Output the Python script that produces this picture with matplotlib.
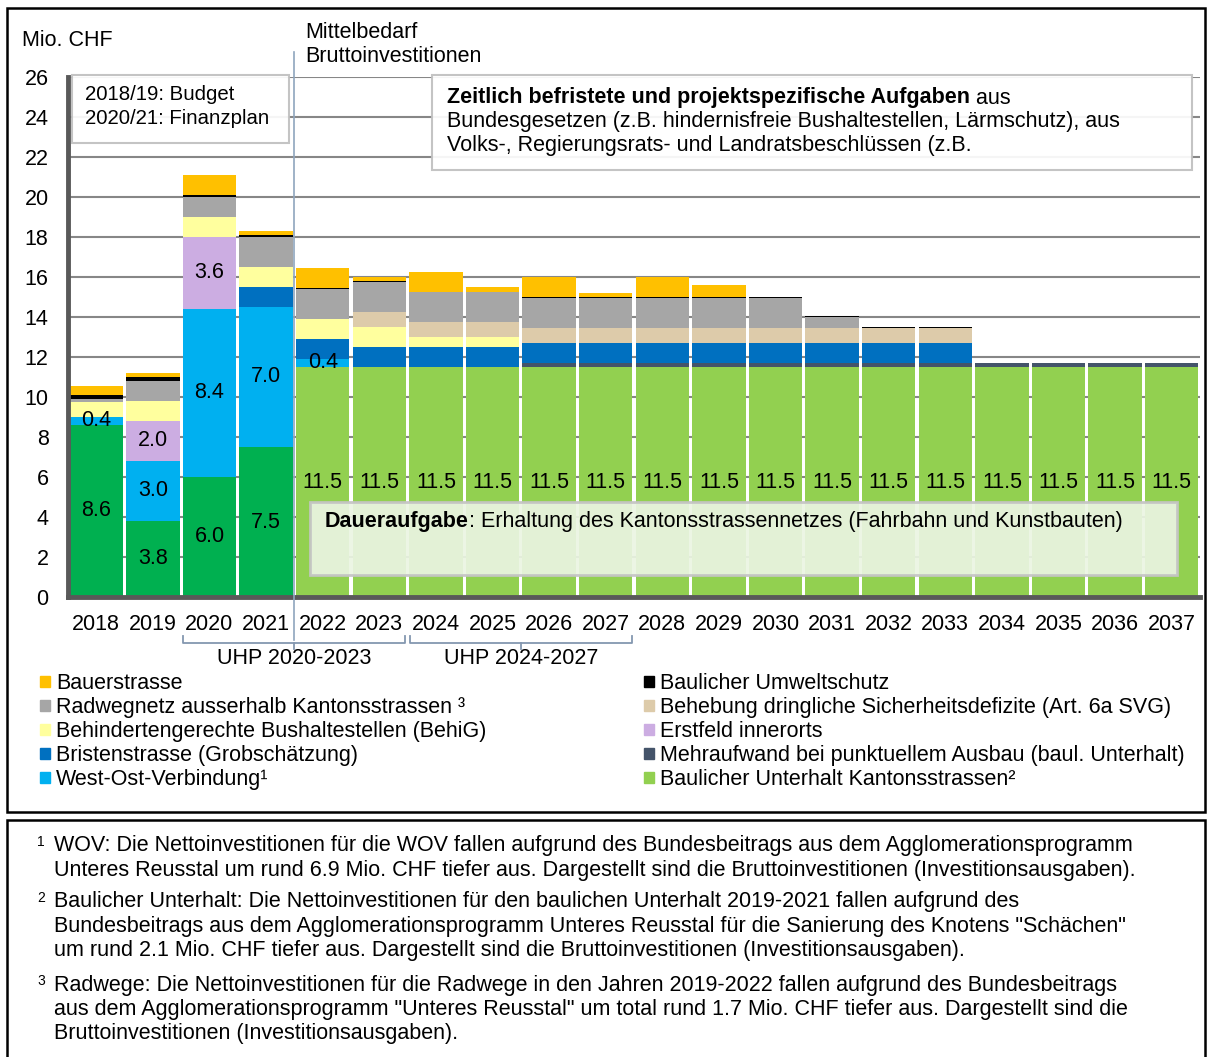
import matplotlib
matplotlib.use('Agg')
import matplotlib.pyplot as plt
import matplotlib.patches as mpatches
import matplotlib.transforms as mtransforms
from matplotlib.lines import Line2D
from matplotlib.text import Annotation

plt.rcParams['font.family'] = ['Liberation Sans', 'DejaVu Sans']

# ---------------- data ----------------
years = ['2018', '2019', '2020', '2021', '2022', '2023', '2024', '2025', '2026', '2027',
         '2028', '2029', '2030', '2031', '2032', '2033', '2034', '2035', '2036', '2037']

unterhalt    = [8.6, 3.8, 6.0, 7.5, 11.5, 11.5, 11.5, 11.5, 11.5, 11.5,
                11.5, 11.5, 11.5, 11.5, 11.5, 11.5, 11.5, 11.5, 11.5, 11.5]
mehraufwand  = [0, 0, 0, 0, 0, 0, 0, 0, 0.2, 0.2,
                0.2, 0.2, 0.2, 0.2, 0.2, 0.2, 0.2, 0.2, 0.2, 0.2]
west_ost     = [0.4, 3.0, 8.4, 7.0, 0.4, 0, 0, 0, 0, 0,
                0, 0, 0, 0, 0, 0, 0, 0, 0, 0]
bristen      = [0, 0, 0, 1.0, 1.0, 1.0, 1.0, 1.0, 1.0, 1.0,
                1.0, 1.0, 1.0, 1.0, 1.0, 1.0, 0, 0, 0, 0]
erstfeld     = [0, 2.0, 3.6, 0, 0, 0, 0, 0, 0, 0,
                0, 0, 0, 0, 0, 0, 0, 0, 0, 0]
bushalt      = [0.75, 1.0, 1.0, 1.0, 1.0, 1.0, 0.5, 0.5, 0, 0,
                0, 0, 0, 0, 0, 0, 0, 0, 0, 0]
behebung     = [0, 0, 0, 0, 0, 0.75, 0.75, 0.75, 0.75, 0.75,
                0.75, 0.75, 0.75, 0.75, 0.75, 0.75, 0, 0, 0, 0]
radweg       = [0.15, 1.0, 1.0, 1.5, 1.5, 1.5, 1.5, 1.5, 1.5, 1.5,
                1.5, 1.5, 1.5, 0.55, 0, 0, 0, 0, 0, 0]
umweltschutz = [0.2, 0.2, 0.1, 0.1, 0.05, 0.05, 0, 0, 0.05, 0.05,
                0.05, 0.05, 0.05, 0.05, 0.05, 0.05, 0, 0, 0, 0]
bauer        = [0.45, 0.2, 1.0, 0.2, 1.0, 0.2, 1.0, 0.25, 1.0, 0.2,
                1.0, 0.6, 0, 0, 0, 0, 0, 0, 0, 0]

names = {
    'bauer': 'Bauerstrasse',
    'radweg': 'Radwegnetz ausserhalb Kantonsstrassen \u00b3',
    'bushalt': 'Behindertengerechte Bushaltestellen (BehiG)',
    'bristen': 'Bristenstrasse (Grobschätzung)',
    'west_ost': 'West-Ost-Verbindung\u00b9',
    'umweltschutz': 'Baulicher Umweltschutz',
    'behebung': 'Behebung dringliche Sicherheitsdefizite (Art. 6a SVG)',
    'erstfeld': 'Erstfeld innerorts',
    'mehraufwand': 'Mehraufwand bei punktuellem Ausbau (baul. Unterhalt)',
    'unterhalt': 'Baulicher Unterhalt Kantonsstrassen\u00b2',
}

# ---------------- layout helpers ----------------
W, H = 1207, 1057
FS = 15.5
fig = plt.figure(figsize=(W / 100, H / 100), dpi=100)


def fx(x):
    return x / W


def fy(y):
    return 1 - y / H


ax = fig.add_axes([fx(68), fy(597), fx(1200) - fx(68), fy(77) - fy(597)])

colors = {
    'unterhalt': '#92D050', 'mehraufwand': '#44546A', 'west_ost': '#00B0F0',
    'bristen': '#0070C0', 'erstfeld': '#CCADE2', 'bushalt': '#FFFF9E',
    'behebung': '#DDCBAA', 'radweg': '#A6A6A6', 'umweltschutz': '#000000',
    'bauer': '#FFC000',
}
unterhalt_colors = ['#00B050'] * 4 + ['#92D050'] * 16

series = [('unterhalt', unterhalt), ('mehraufwand', mehraufwand), ('west_ost', west_ost),
          ('bristen', bristen), ('erstfeld', erstfeld), ('bushalt', bushalt),
          ('behebung', behebung), ('radweg', radweg), ('umweltschutz', umweltschutz),
          ('bauer', bauer)]

x = list(range(len(years)))
bottom = [0.0] * len(years)
handles = {}
containers = {}
for key, vals in series:
    col = unterhalt_colors if key == 'unterhalt' else colors[key]
    bc = ax.bar(x, vals, width=0.94, bottom=bottom, color=col, linewidth=0, zorder=3)
    containers[key] = bc
    handles[key] = mpatches.Patch(color=colors[key], label=names[key])
    bottom = [b + v for b, v in zip(bottom, vals)]

for key in ['unterhalt', 'west_ost', 'erstfeld']:
    vals = dict(series)[key]
    labs = [f'{v:.1f}' if v > 0 else '' for v in vals]
    ax.bar_label(containers[key], labels=labs, label_type='center', fontsize=FS,
                 color='black', zorder=5)

ax.set_xlim(-0.5, 19.5)
ax.set_ylim(0, 26)
ax.set_yticks(range(0, 27, 2))
ax.set_xticks(x)
ax.set_xticklabels(years)
ax.tick_params(axis='both', length=0, labelsize=FS)
ax.tick_params(axis='y', pad=14)
ax.tick_params(axis='x', pad=12)
ax.yaxis.grid(True, color='#878787', linewidth=1.5, zorder=0)
ax.set_axisbelow(True)
for s in ['top', 'right']:
    ax.spines[s].set_visible(False)
for s in ['left', 'bottom']:
    ax.spines[s].set_color('#595959')
    ax.spines[s].set_linewidth(3.5)
    ax.spines[s].set_zorder(4)

# ---------------- figure-level decorations ----------------
blend = mtransforms.blended_transform_factory(ax.transData, fig.transFigure)

# vertical "Mittelbedarf" divider
fig.add_artist(Line2D([3.5, 3.5], [fy(52), fy(640)], transform=blend,
                      color='#8FA5BD', linewidth=1.2, zorder=2))

fig.text(fx(22), fy(41), 'Mio. CHF', fontsize=FS, va='center', ha='left')
fig.text(fx(305), fy(32), 'Mittelbedarf', fontsize=FS, va='center', ha='left')
fig.text(fx(305), fy(56), 'Bruttoinvestitionen', fontsize=FS, va='center', ha='left')

# budget box
fig.add_artist(mpatches.Rectangle((fx(72), fy(143)), fx(289) - fx(72), fy(75) - fy(143),
                                  transform=fig.transFigure, facecolor='white', alpha=0.92,
                                  edgecolor='#BFBFBF', linewidth=1.5, zorder=6))
fig.text(fx(85), fy(95), '2018/19: Budget', fontsize=14.7, va='center', zorder=7)
fig.text(fx(85), fy(118), '2020/21: Finanzplan', fontsize=14.7, va='center', zorder=7)

# Zeitlich box
fig.add_artist(mpatches.Rectangle((fx(432), fy(170)), fx(1192) - fx(432), fy(75) - fy(170),
                                  transform=fig.transFigure, facecolor='white', alpha=0.92,
                                  edgecolor='#BFBFBF', linewidth=1.5, zorder=6))
t1 = fig.text(fx(447), fy(98), 'Zeitlich befristete und projektspezifische Aufgaben',
              fontsize=FS, va='center', weight='bold', zorder=7)
a1 = Annotation(' aus', xy=(1, 0), xycoords=t1, va='bottom', ha='left', fontsize=FS, zorder=7)
fig.add_artist(a1)
fig.text(fx(447), fy(122), 'Bundesgesetzen (z.B. hindernisfreie Bushaltestellen, Lärmschutz), aus',
         fontsize=FS, va='center', zorder=7)
fig.text(fx(447), fy(146), 'Volks-, Regierungsrats- und Landratsbeschlüssen (z.B.',
         fontsize=FS, va='center', zorder=7)

# Daueraufgabe box
fig.add_artist(mpatches.Rectangle((fx(310), fy(575)), fx(1177) - fx(310), fy(502) - fy(575),
                                  transform=fig.transFigure, facecolor='#EBF5E2', alpha=0.92,
                                  edgecolor='#C4C4C4', linewidth=2, zorder=6))
t2 = fig.text(fx(325), fy(522), 'Daueraufgabe', fontsize=FS, va='center', weight='bold', zorder=7)
a2 = Annotation(': Erhaltung des Kantonsstrassennetzes (Fahrbahn und Kunstbauten)',
                xy=(1, 0), xycoords=t2, va='bottom', ha='left', fontsize=FS, zorder=7)
fig.add_artist(a2)

# UHP brackets
bcol = '#8497B0'
for (i0, i1, lab) in [(2, 5, 'UHP 2020-2023'), (6, 9, 'UHP 2024-2027')]:
    xa, xb = i0 - 0.46, i1 + 0.46
    xm = (i0 + i1) / 2
    fig.add_artist(Line2D([xa, xa, xb, xb], [fy(636), fy(643), fy(643), fy(636)],
                          transform=blend, color=bcol, linewidth=1.3))
    fig.add_artist(Line2D([xm, xm], [fy(643), fy(649)], transform=blend,
                          color=bcol, linewidth=1.3))
    fig.text(xm, fy(659), lab, transform=blend, fontsize=FS, ha='center', va='center')

# legends
left_keys = ['bauer', 'radweg', 'bushalt', 'bristen', 'west_ost']
right_keys = ['umweltschutz', 'behebung', 'erstfeld', 'mehraufwand', 'unterhalt']
for keys, xpos in [(left_keys, 40), (right_keys, 644)]:
    fig.legend(handles=[handles[k] for k in keys], loc='upper left',
               bbox_to_anchor=(fx(xpos), fy(673)), frameon=False, fontsize=FS,
               borderpad=0, borderaxespad=0, handlelength=0.45, handleheight=0.45,
               handletextpad=0.3, labelspacing=0.14)

# frames
fig.add_artist(mpatches.Rectangle((fx(7), fy(812)), fx(1205) - fx(7), fy(8) - fy(812),
                                  transform=fig.transFigure, fill=False,
                                  edgecolor='black', linewidth=1.8))
fig.add_artist(mpatches.Rectangle((fx(7), fy(1070)), fx(1205) - fx(7), fy(820) - fy(1070),
                                  transform=fig.transFigure, fill=False,
                                  edgecolor='black', linewidth=1.8, clip_on=False))

# footnotes
FN = 15.5
foot = [
    ('1', 846, ['WOV: Die Nettoinvestitionen für die WOV fallen aufgrund des Bundesbeitrags aus dem Agglomerationsprogramm',
                'Unteres Reusstal um rund 6.9 Mio. CHF tiefer aus. Dargestellt sind die Bruttoinvestitionen (Investitionsausgaben).']),
    ('2', 902, ['Baulicher Unterhalt: Die Nettoinvestitionen für den baulichen Unterhalt 2019-2021 fallen aufgrund des',
                'Bundesbeitrags aus dem Agglomerationsprogramm Unteres Reusstal für die Sanierung des Knotens "Schächen"',
                'um rund 2.1 Mio. CHF tiefer aus. Dargestellt sind die Bruttoinvestitionen (Investitionsausgaben).']),
    ('3', 985, ['Radwege: Die Nettoinvestitionen für die Radwege in den Jahren 2019-2022 fallen aufgrund des Bundesbeitrags',
                'aus dem Agglomerationsprogramm "Unteres Reusstal" um total rund 1.7 Mio. CHF tiefer aus. Dargestellt sind die',
                'Bruttoinvestitionen (Investitionsausgaben).']),
]
for num, y0, lines in foot:
    fig.text(fx(37), fy(y0 - 4), num, fontsize=10, va='center', ha='left')
    for k, line in enumerate(lines):
        fig.text(fx(54), fy(y0 + k * 24.3), line, fontsize=FN, va='center', ha='left')

fig.savefig('out.png', dpi=100)
